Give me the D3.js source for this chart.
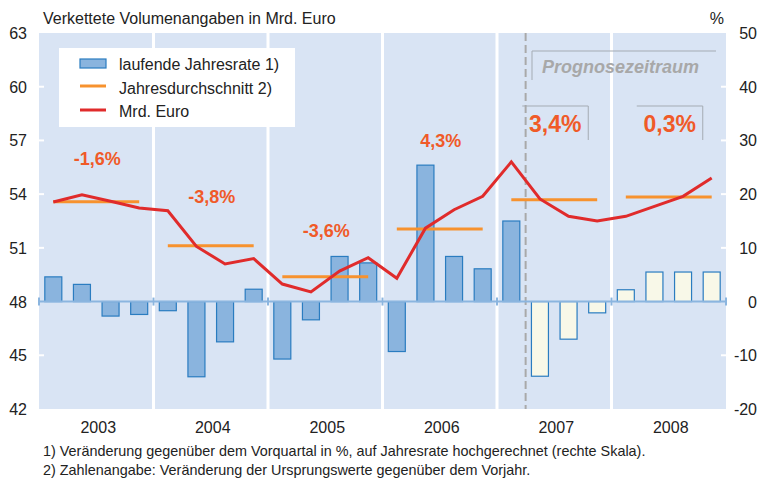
<!DOCTYPE html>
<meta charset="utf-8">
<script src="https://d3js.org/d3.v7.min.js"></script>
<style>
  body { margin: 0; background: #fff; }
  text { font-family: "Liberation Sans", Arial, sans-serif; fill: #222; }
</style>
<svg id="chart" width="759" height="482"></svg>
<script>

// ---- data ----
var years = ["2003", "2004", "2005", "2006", "2007", "2008"];

// laufende Jahresrate (%), one value per quarter, right scale
var rate = [
   4.6,   3.2,  -2.7,  -2.4,
  -1.7, -14.0,  -7.5,   2.3,
 -10.7,  -3.4,   8.4,   7.2,
  -9.3,  25.4,   8.4,   6.1,
  15.0, -13.9,  -7.0,  -2.1,
   2.2,   5.5,   5.5,   5.5
];

// Mrd. Euro, one value per quarter, left scale
var euro = [
  53.56, 53.97, 53.60, 53.23,
  53.07, 51.08, 50.10, 50.40,
  48.98, 48.54, 49.70, 50.45,
  49.30, 52.10, 53.13, 53.88,
  55.80, 53.73, 52.76, 52.50,
  52.76, 53.32, 53.88, 54.90
];

// Jahresdurchschnitt, left scale
var yearAvg = [53.58, 51.12, 49.39, 52.06, 53.69, 53.84];

// change vs previous year
var yearPct = ["-1,6%", "-3,8%", "-3,6%", "4,3%", "3,4%", "0,3%"];

var leftTicks = [42, 45, 48, 51, 54, 57, 60, 63];
var rightTicks = [-20, -10, 0, 10, 20, 30, 40, 50];

var forecastFrom = 17;   // quarter index where the forecast starts (2007 Q2)

// ---- layout ----
var svg = d3.select("#chart");
var pL = 39, pR = 726, pT = 33, pB = 409;

var xYear = d3.scaleLinear().domain([0, 6]).range([pL, pR]);
var yL = d3.scaleLinear().domain([42, 63]).range([pB, pT]);
var yR = d3.scaleLinear().domain([-20, 50]).range([pB, pT]);
function xq(i) { return xYear(i / 4 + 1 / 8); }

// background
svg.append("rect")
  .attr("x", pL).attr("y", pT)
  .attr("width", pR - pL).attr("height", pB - pT)
  .attr("fill", "#d9e4f4");

// year separators
svg.selectAll(".sep")
  .data(d3.range(1, 6))
  .enter().append("line")
    .attr("x1", function(d){ return xYear(d) }).attr("x2", function(d){ return xYear(d) })
    .attr("y1", pT).attr("y2", pB)
    .attr("stroke", "#fff").attr("stroke-width", 3);

// small white ticks inside the frame
svg.selectAll(".ltick")
  .data(leftTicks.filter(function(d){ return d > 42 && d < 63 && d != 48 }))
  .enter().append("line")
    .attr("x1", pL).attr("x2", pL + 5)
    .attr("y1", function(d){ return yL(d) }).attr("y2", function(d){ return yL(d) })
    .attr("stroke", "#fff").attr("stroke-width", 2);
svg.selectAll(".rtick")
  .data(rightTicks.filter(function(d){ return d > -20 && d < 50 && d != 0 }))
  .enter().append("line")
    .attr("x1", pR - 5).attr("x2", pR)
    .attr("y1", function(d){ return yR(d) }).attr("y2", function(d){ return yR(d) })
    .attr("stroke", "#fff").attr("stroke-width", 2);

// forecast divider
svg.append("line")
  .attr("x1", xYear(4.25)).attr("x2", xYear(4.25))
  .attr("y1", pT).attr("y2", pB)
  .attr("stroke", "#a9a9a9").attr("stroke-width", 2)
  .style("stroke-dasharray", "8,4");

// bars
var barW = 17;
svg.selectAll(".bar")
  .data(rate)
  .enter().append("rect")
    .attr("x", function(d, i){ return xq(i) - barW / 2 })
    .attr("y", function(d){ return yR(Math.max(0, d)) })
    .attr("width", barW)
    .attr("height", function(d){ return Math.abs(yR(d) - yR(0)) })
    .attr("fill", function(d, i){ return i >= forecastFrom ? "#f8f8e8" : "#8ab4de" })
    .attr("stroke", "#2a7cc0").attr("stroke-width", 1.2);

// zero line
svg.append("line")
  .attr("x1", pL).attr("x2", pR)
  .attr("y1", yR(0)).attr("y2", yR(0))
  .attr("stroke", "#8bb5df").attr("stroke-width", 2);
svg.selectAll(".ztick")
  .data(d3.range(0, 7))
  .enter().append("line")
    .attr("x1", function(d){ return xYear(d) }).attr("x2", function(d){ return xYear(d) })
    .attr("y1", yR(0) - 4).attr("y2", yR(0) + 4)
    .attr("stroke", "#8bb5df").attr("stroke-width", 2);

// yearly averages
svg.selectAll(".avg")
  .data(yearAvg)
  .enter().append("line")
    .attr("x1", function(d, i){ return xq(i * 4) }).attr("x2", function(d, i){ return xq(i * 4 + 3) })
    .attr("y1", function(d){ return yL(d) }).attr("y2", function(d){ return yL(d) })
    .attr("stroke", "#f7922e").attr("stroke-width", 3);

// Mrd. Euro line
var line = d3.line()
  .x(function(d, i){ return xq(i) })
  .y(function(d){ return yL(d) });
svg.append("path")
  .datum(euro)
  .attr("d", line)
  .attr("fill", "none")
  .attr("stroke", "#e02b2b").attr("stroke-width", 3)
  .attr("stroke-linejoin", "miter");

// percentage labels
var pctY = [165, 203, 236.5, 146.5, 131.5, 131.5];
svg.selectAll(".pct")
  .data(yearPct)
  .enter().append("text")
    .attr("x", function(d, i){ return xYear(i + 0.5) + 1 })
    .attr("y", function(d, i){ return pctY[i] })
    .attr("text-anchor", "middle")
    .style("font-size", function(d, i){ return i >= 4 ? "23px" : "18px" })
    .style("font-weight", "bold")
    .style("fill", "#f05a28")
    .text(function(d){ return d });

// half frames round the forecast percentages
[4, 5].forEach(function(i) {
  var cx = xYear(i + 0.5);
  svg.append("path")
    .attr("d", "M" + (cx - 32) + ",106H" + (cx + 34) + "V140")
    .attr("fill", "none").attr("stroke", "#a4abb3").attr("stroke-width", 1);
});

// Prognosezeitraum
svg.append("path")
  .attr("d", "M532,80V51H716")
  .attr("fill", "none").attr("stroke", "#a4abb3").attr("stroke-width", 1);
svg.append("text")
  .attr("x", 542).attr("y", 73)
  .style("font-size", "18px").style("font-weight", "bold").style("font-style", "italic")
  .style("fill", "#a8a8a8")
  .text("Prognosezeitraum");

// legend
svg.append("rect")
  .attr("x", 59).attr("y", 48).attr("width", 236).attr("height", 79)
  .attr("fill", "#fff");
svg.append("rect")
  .attr("x", 80).attr("y", 59).attr("width", 26).attr("height", 9)
  .attr("fill", "#8ab4de").attr("stroke", "#2a7cc0").attr("stroke-width", 1.2);
svg.append("line")
  .attr("x1", 80).attr("x2", 106).attr("y1", 86).attr("y2", 86)
  .attr("stroke", "#f7922e").attr("stroke-width", 3);
svg.append("line")
  .attr("x1", 80).attr("x2", 106).attr("y1", 110).attr("y2", 110)
  .attr("stroke", "#e02b2b").attr("stroke-width", 3);
var legendText = ["laufende Jahresrate 1)", "Jahresdurchschnitt 2)", "Mrd. Euro"];
svg.selectAll(".leg")
  .data(legendText)
  .enter().append("text")
    .attr("x", 119)
    .attr("y", function(d, i){ return 70 + i * 23.5 })
    .style("font-size", "16px")
    .text(function(d){ return d });

// axes labels
svg.selectAll(".llab")
  .data(leftTicks)
  .enter().append("text")
    .attr("x", 27)
    .attr("y", function(d){ return yL(d) + 6 })
    .attr("text-anchor", "end")
    .style("font-size", "16px")
    .text(function(d){ return d });
svg.selectAll(".rlab")
  .data(rightTicks)
  .enter().append("text")
    .attr("x", 757)
    .attr("y", function(d){ return yR(d) + 6 })
    .attr("text-anchor", "end")
    .style("font-size", "16px")
    .text(function(d){ return d });

// years
svg.selectAll(".year")
  .data(years)
  .enter().append("text")
    .attr("x", function(d, i){ return xYear(i + 0.5) + 2 })
    .attr("y", 433)
    .attr("text-anchor", "middle")
    .style("font-size", "16px")
    .text(function(d){ return d });

// title, unit, footnotes
svg.append("text").attr("x", 43).attr("y", 24)
  .style("font-size", "16px")
  .text("Verkettete Volumenangaben in Mrd. Euro");
svg.append("text").attr("x", 724).attr("y", 24)
  .attr("text-anchor", "end")
  .style("font-size", "16px")
  .text("%");
svg.append("text").attr("x", 43).attr("y", 456)
  .style("font-size", "14.4px")
  .text("1) Veränderung gegenüber dem Vorquartal in %, auf Jahresrate hochgerechnet (rechte Skala).");
svg.append("text").attr("x", 43).attr("y", 475)
  .style("font-size", "14.4px")
  .text("2) Zahlenangabe: Veränderung der Ursprungswerte gegenüber dem Vorjahr.");

</script>
